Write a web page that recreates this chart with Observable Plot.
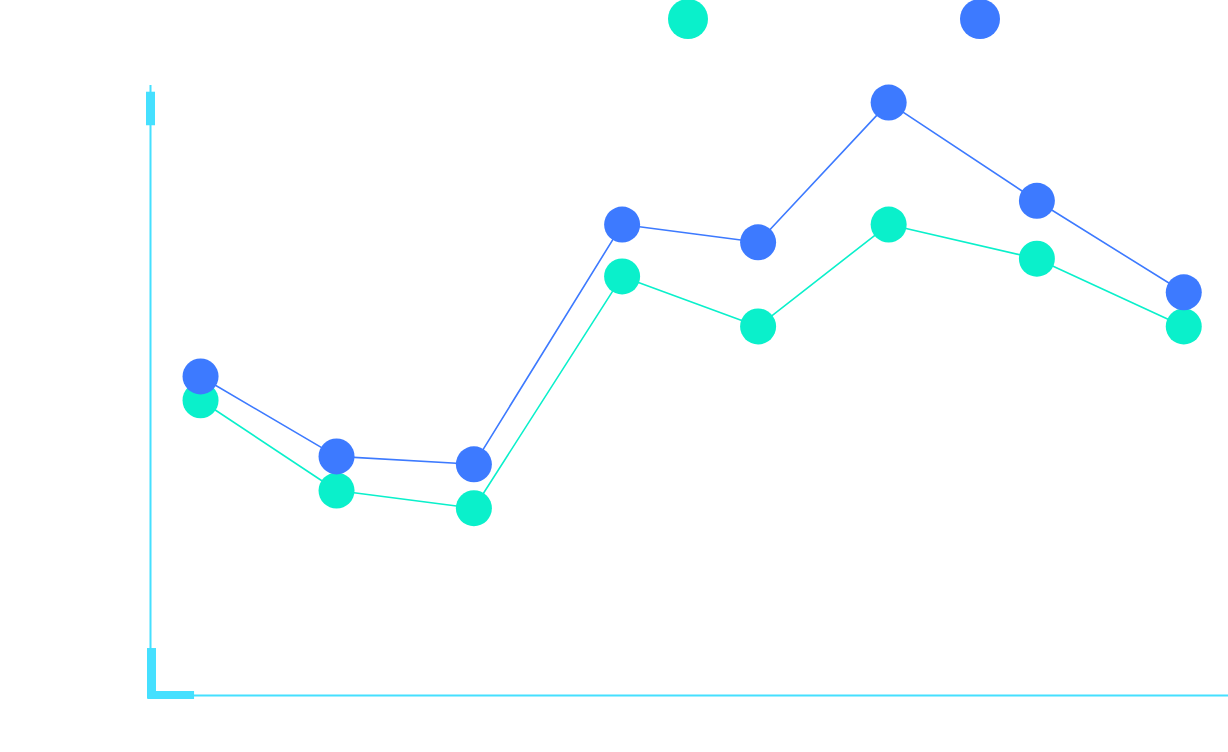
<!DOCTYPE html>
<html>
<head>
<meta charset="utf-8">
<script src="https://cdn.jsdelivr.net/npm/d3@7"></script>
<script src="https://cdn.jsdelivr.net/npm/@observablehq/plot@0.6"></script>
<style>
  html, body { margin: 0; padding: 0; background: #ffffff; }
  #legend { position: relative; width: 1228px; height: 40px; }
  .sw { position: absolute; top: -1px; width: 40px; height: 40px; border-radius: 50%; }
</style>
</head>
<body>
<div id="legend"></div>
<div id="chart"></div>
<script>
const positions = [0, 1, 2.01, 3.10, 4.10, 5.06, 6.15, 7.23];
const seriesNames = ["A", "B"];
const seriesA = [48.4, 33.6, 30.7, 68.7, 60.5, 77.2, 71.6, 60.5];
const seriesB = [52.3, 39.2, 37.9, 77.2, 74.3, 97.2, 81.1, 66.1];
const colors = ["#0AF0CB", "#3D7AFF"];
const axisColor = "#45E0FF";

const data = [];
positions.forEach((x, i) => {
  data.push({x, y: seriesA[i], s: seriesNames[0]});
});
positions.forEach((x, i) => {
  data.push({x, y: seriesB[i], s: seriesNames[1]});
});

// legend
const legend = document.getElementById("legend");
[[688, colors[0]], [980, colors[1]]].forEach(([cx, c]) => {
  const s = document.createElement("span");
  s.className = "sw";
  s.style.left = (cx - 20) + "px";
  s.style.background = c;
  legend.appendChild(s);
});

const xDomain = [-0.368, 7.559];
const chart = Plot.plot({
  width: 1228,
  height: 712,
  marginLeft: 150,
  marginRight: 0,
  marginTop: 45,
  marginBottom: 57,
  x: {domain: xDomain, axis: null},
  y: {domain: [0, 100], axis: null},
  color: {domain: seriesNames, range: colors},
  marks: [
    Plot.ruleX([xDomain[0]], {y1: 0, y2: 100, stroke: axisColor, strokeWidth: 2}),
    Plot.ruleY([0], {stroke: axisColor, strokeWidth: 2}),
    Plot.ruleX([xDomain[0]], {y1: 93.4, y2: 98.9, stroke: axisColor, strokeWidth: 9}),
    Plot.ruleX([xDomain[0]], {y1: -0.5, y2: 7.7, stroke: axisColor, strokeWidth: 9, dx: 1}),
    Plot.ruleY([0.1], {x1: xDomain[0] - 0.02, x2: -0.044, stroke: axisColor, strokeWidth: 8}),
    Plot.line(data, {x: "x", y: "y", z: "s", stroke: "s", strokeWidth: 1.6}),
    Plot.dot(data, {x: "x", y: "y", fill: "s", r: 18, stroke: "none"})
  ]
});
document.getElementById("chart").appendChild(chart);
</script>
</body>
</html>
